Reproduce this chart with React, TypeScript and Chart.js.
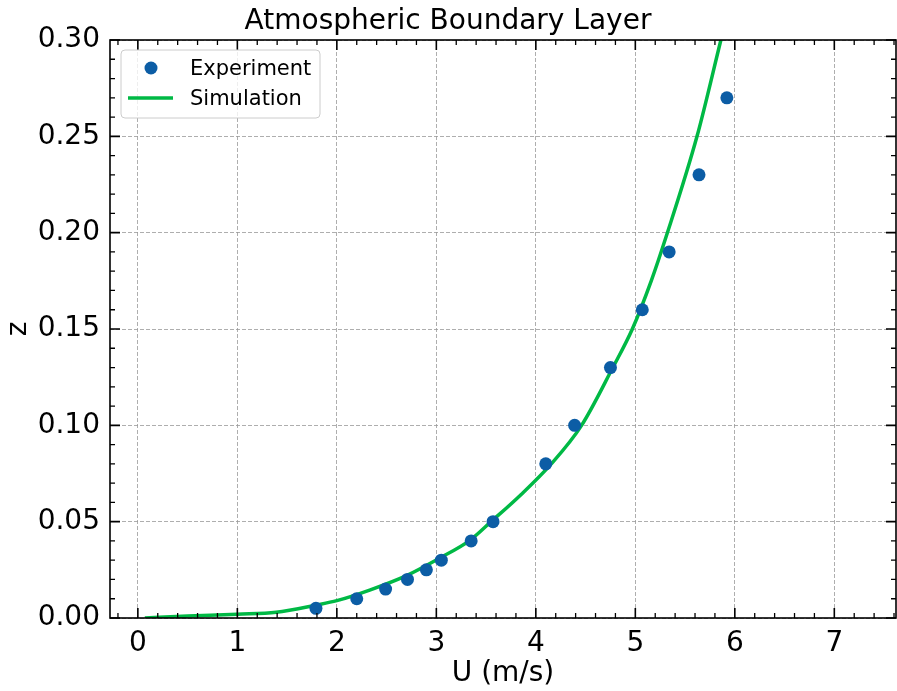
import { useEffect, useRef } from "react";
import { Chart, registerables } from "chart.js";

Chart.register(...registerables);

const expU = [1.79, 2.2, 2.49, 2.71, 2.9, 3.05, 3.35, 3.57, 4.1, 4.39, 4.75, 5.07, 5.34, 5.64, 5.92];
const expZ = [0.005, 0.01, 0.015, 0.02, 0.025, 0.03, 0.04, 0.05, 0.08, 0.1, 0.13, 0.16, 0.19, 0.23, 0.27];

const simU = [0.07, 0.5, 1.0, 1.39, 1.8, 2.0, 2.33, 2.7, 3.03, 3.33, 3.55, 3.85, 4.155, 4.46, 4.774, 4.97, 5.16, 5.31, 5.62, 5.86];
const simZ = [0.0, 0.001, 0.002, 0.003, 0.0068, 0.009, 0.0145, 0.022, 0.031, 0.04, 0.05, 0.064, 0.08, 0.1, 0.13, 0.15, 0.175, 0.198, 0.25, 0.3];

const xMajor = [0, 1, 2, 3, 4, 5, 6, 7];
const yMajor = [0, 0.05, 0.1, 0.15, 0.2, 0.25, 0.3];

const TITLE = "Atmospheric Boundary Layer";
const X_LABEL = "U (m/s)";
const Y_LABEL = "z";
const LEGEND_LABELS = ["Experiment", "Simulation"];

const BLUE = "#0C5DA5";
const GREEN = "#00B945";
const FONT = "'DejaVu Sans', sans-serif";

const X_MIN = -0.28;
const X_MAX = 7.62;
const Y_MIN = 0;
const Y_MAX = 0.3;

const framePlugin = {
  id: "frame",
  afterDraw(chart: any) {
    const ctx = chart.ctx;
    const { left, right, top, bottom } = chart.chartArea;
    const xs = chart.scales.x;
    const ys = chart.scales.y;
    ctx.save();
    ctx.strokeStyle = "#000";
    const drawX = (v: number, len: number) => {
      const px = xs.getPixelForValue(v);
      if (px < left - 0.5 || px > right + 0.5) return;
      ctx.beginPath();
      ctx.moveTo(px, bottom);
      ctx.lineTo(px, bottom - len);
      ctx.moveTo(px, top);
      ctx.lineTo(px, top + len);
      ctx.stroke();
    };
    const drawY = (v: number, len: number) => {
      const py = ys.getPixelForValue(v);
      if (py < top - 0.5 || py > bottom + 0.5) return;
      ctx.beginPath();
      ctx.moveTo(left, py);
      ctx.lineTo(left + len, py);
      ctx.moveTo(right, py);
      ctx.lineTo(right - len, py);
      ctx.stroke();
    };
    ctx.lineWidth = 1.3;
    for (let i = -2; i <= 38; i++) {
      if (i % 5 !== 0) drawX(i / 5, 5);
    }
    for (let i = 0; i <= 30; i++) {
      if (i % 5 !== 0) drawY(i / 100, 5);
    }
    ctx.lineWidth = 1.6;
    xMajor.forEach((v) => drawX(v, 10));
    yMajor.forEach((v) => drawY(v, 10));
    ctx.lineWidth = 1.6;
    ctx.strokeRect(left, top, right - left, bottom - top);

    // legend
    const bx = 121, by = 50, bw = 199, bh = 68, r = 4;
    ctx.beginPath();
    ctx.moveTo(bx + r, by);
    ctx.lineTo(bx + bw - r, by);
    ctx.quadraticCurveTo(bx + bw, by, bx + bw, by + r);
    ctx.lineTo(bx + bw, by + bh - r);
    ctx.quadraticCurveTo(bx + bw, by + bh, bx + bw - r, by + bh);
    ctx.lineTo(bx + r, by + bh);
    ctx.quadraticCurveTo(bx, by + bh, bx, by + bh - r);
    ctx.lineTo(bx, by + r);
    ctx.quadraticCurveTo(bx, by, bx + r, by);
    ctx.closePath();
    ctx.fillStyle = "rgba(255,255,255,0.8)";
    ctx.fill();
    ctx.strokeStyle = "#cccccc";
    ctx.lineWidth = 1;
    ctx.stroke();

    ctx.fillStyle = BLUE;
    ctx.beginPath();
    ctx.arc(151, 68, 6.5, 0, Math.PI * 2);
    ctx.fill();

    ctx.strokeStyle = GREEN;
    ctx.lineWidth = 3.5;
    ctx.beginPath();
    ctx.moveTo(128, 98);
    ctx.lineTo(173, 98);
    ctx.stroke();

    ctx.fillStyle = "#000";
    ctx.font = `21px ${FONT}`;
    ctx.textAlign = "left";
    ctx.textBaseline = "middle";
    ctx.fillText(LEGEND_LABELS[0], 190, 69.5);
    ctx.fillText(LEGEND_LABELS[1], 190, 99.5);
    ctx.restore();
  },
};

export default function App() {
  const ref = useRef<HTMLCanvasElement | null>(null);
  useEffect(() => {
    if (!ref.current) return;
    const chart = new Chart(ref.current, {
      type: "scatter",
      data: {
        datasets: [
          {
            label: LEGEND_LABELS[1],
            type: "line",
            data: simU.map((u, i) => ({ x: u, y: simZ[i] })),
            borderColor: GREEN,
            backgroundColor: GREEN,
            borderWidth: 3.5,
            pointRadius: 0,
            cubicInterpolationMode: "monotone",
            fill: false,
            order: 2,
          } as any,
          {
            label: LEGEND_LABELS[0],
            data: expU.map((u, i) => ({ x: u, y: expZ[i] })),
            backgroundColor: BLUE,
            borderWidth: 0,
            pointRadius: 6.5,
            order: 1,
          },
        ],
      },
      options: {
        responsive: false,
        animation: false,
        devicePixelRatio: 1,
        layout: { autoPadding: false, padding: { left: 0, right: 1, top: 0, bottom: 0 } },
        plugins: {
          legend: { display: false },
          tooltip: { enabled: false },
          title: {
            display: true,
            text: TITLE,
            color: "#000",
            font: { family: FONT, size: 28, weight: "normal", lineHeight: 1.2 },
            padding: { top: 5, bottom: 1.4 },
          },
        },
        scales: {
          x: {
            type: "linear",
            min: X_MIN,
            max: X_MAX,
            afterFit: (s: any) => {
              s.height = 73;
              s.paddingLeft = 0;
              s.paddingRight = 0;
            },
            afterBuildTicks: (s: any) => {
              s.ticks = xMajor.map((v) => ({ value: v }));
            },
            ticks: {
              color: "#000",
              font: { family: FONT, size: 28 },
              padding: 9,
              maxRotation: 0,
              autoSkip: false,
              callback: (v: any) => String(v),
            },
            grid: {
              color: "#999999",
              lineWidth: 0.8,
              drawTicks: false,
            },
            border: { display: false, dash: [4, 2] },
            title: {
              display: true,
              text: X_LABEL,
              color: "#000",
              font: { family: FONT, size: 28 },
              padding: { top: 2, bottom: 0 },
            },
          },
          y: {
            type: "linear",
            min: Y_MIN,
            max: Y_MAX,
            afterFit: (s: any) => {
              s.width = 110;
              s.paddingTop = 0;
              s.paddingBottom = 0;
            },
            afterBuildTicks: (s: any) => {
              s.ticks = yMajor.map((v) => ({ value: v }));
            },
            ticks: {
              color: "#000",
              font: { family: FONT, size: 28 },
              padding: 10,
              autoSkip: false,
              callback: (v: any) => Number(v).toFixed(2),
            },
            grid: {
              color: "#999999",
              lineWidth: 0.8,
              drawTicks: false,
            },
            border: { display: false, dash: [4, 2] },
            title: {
              display: true,
              text: Y_LABEL,
              color: "#000",
              font: { family: FONT, size: 28 },
              padding: { top: 2, bottom: 0 },
            },
          },
        },
      },
      plugins: [framePlugin],
    });
    return () => chart.destroy();
  }, []);
  return (
    <div style={{ position: "absolute", left: 0, top: 0, width: 897, height: 691 }}>
      <canvas ref={ref} width={897} height={691} />
    </div>
  );
}
